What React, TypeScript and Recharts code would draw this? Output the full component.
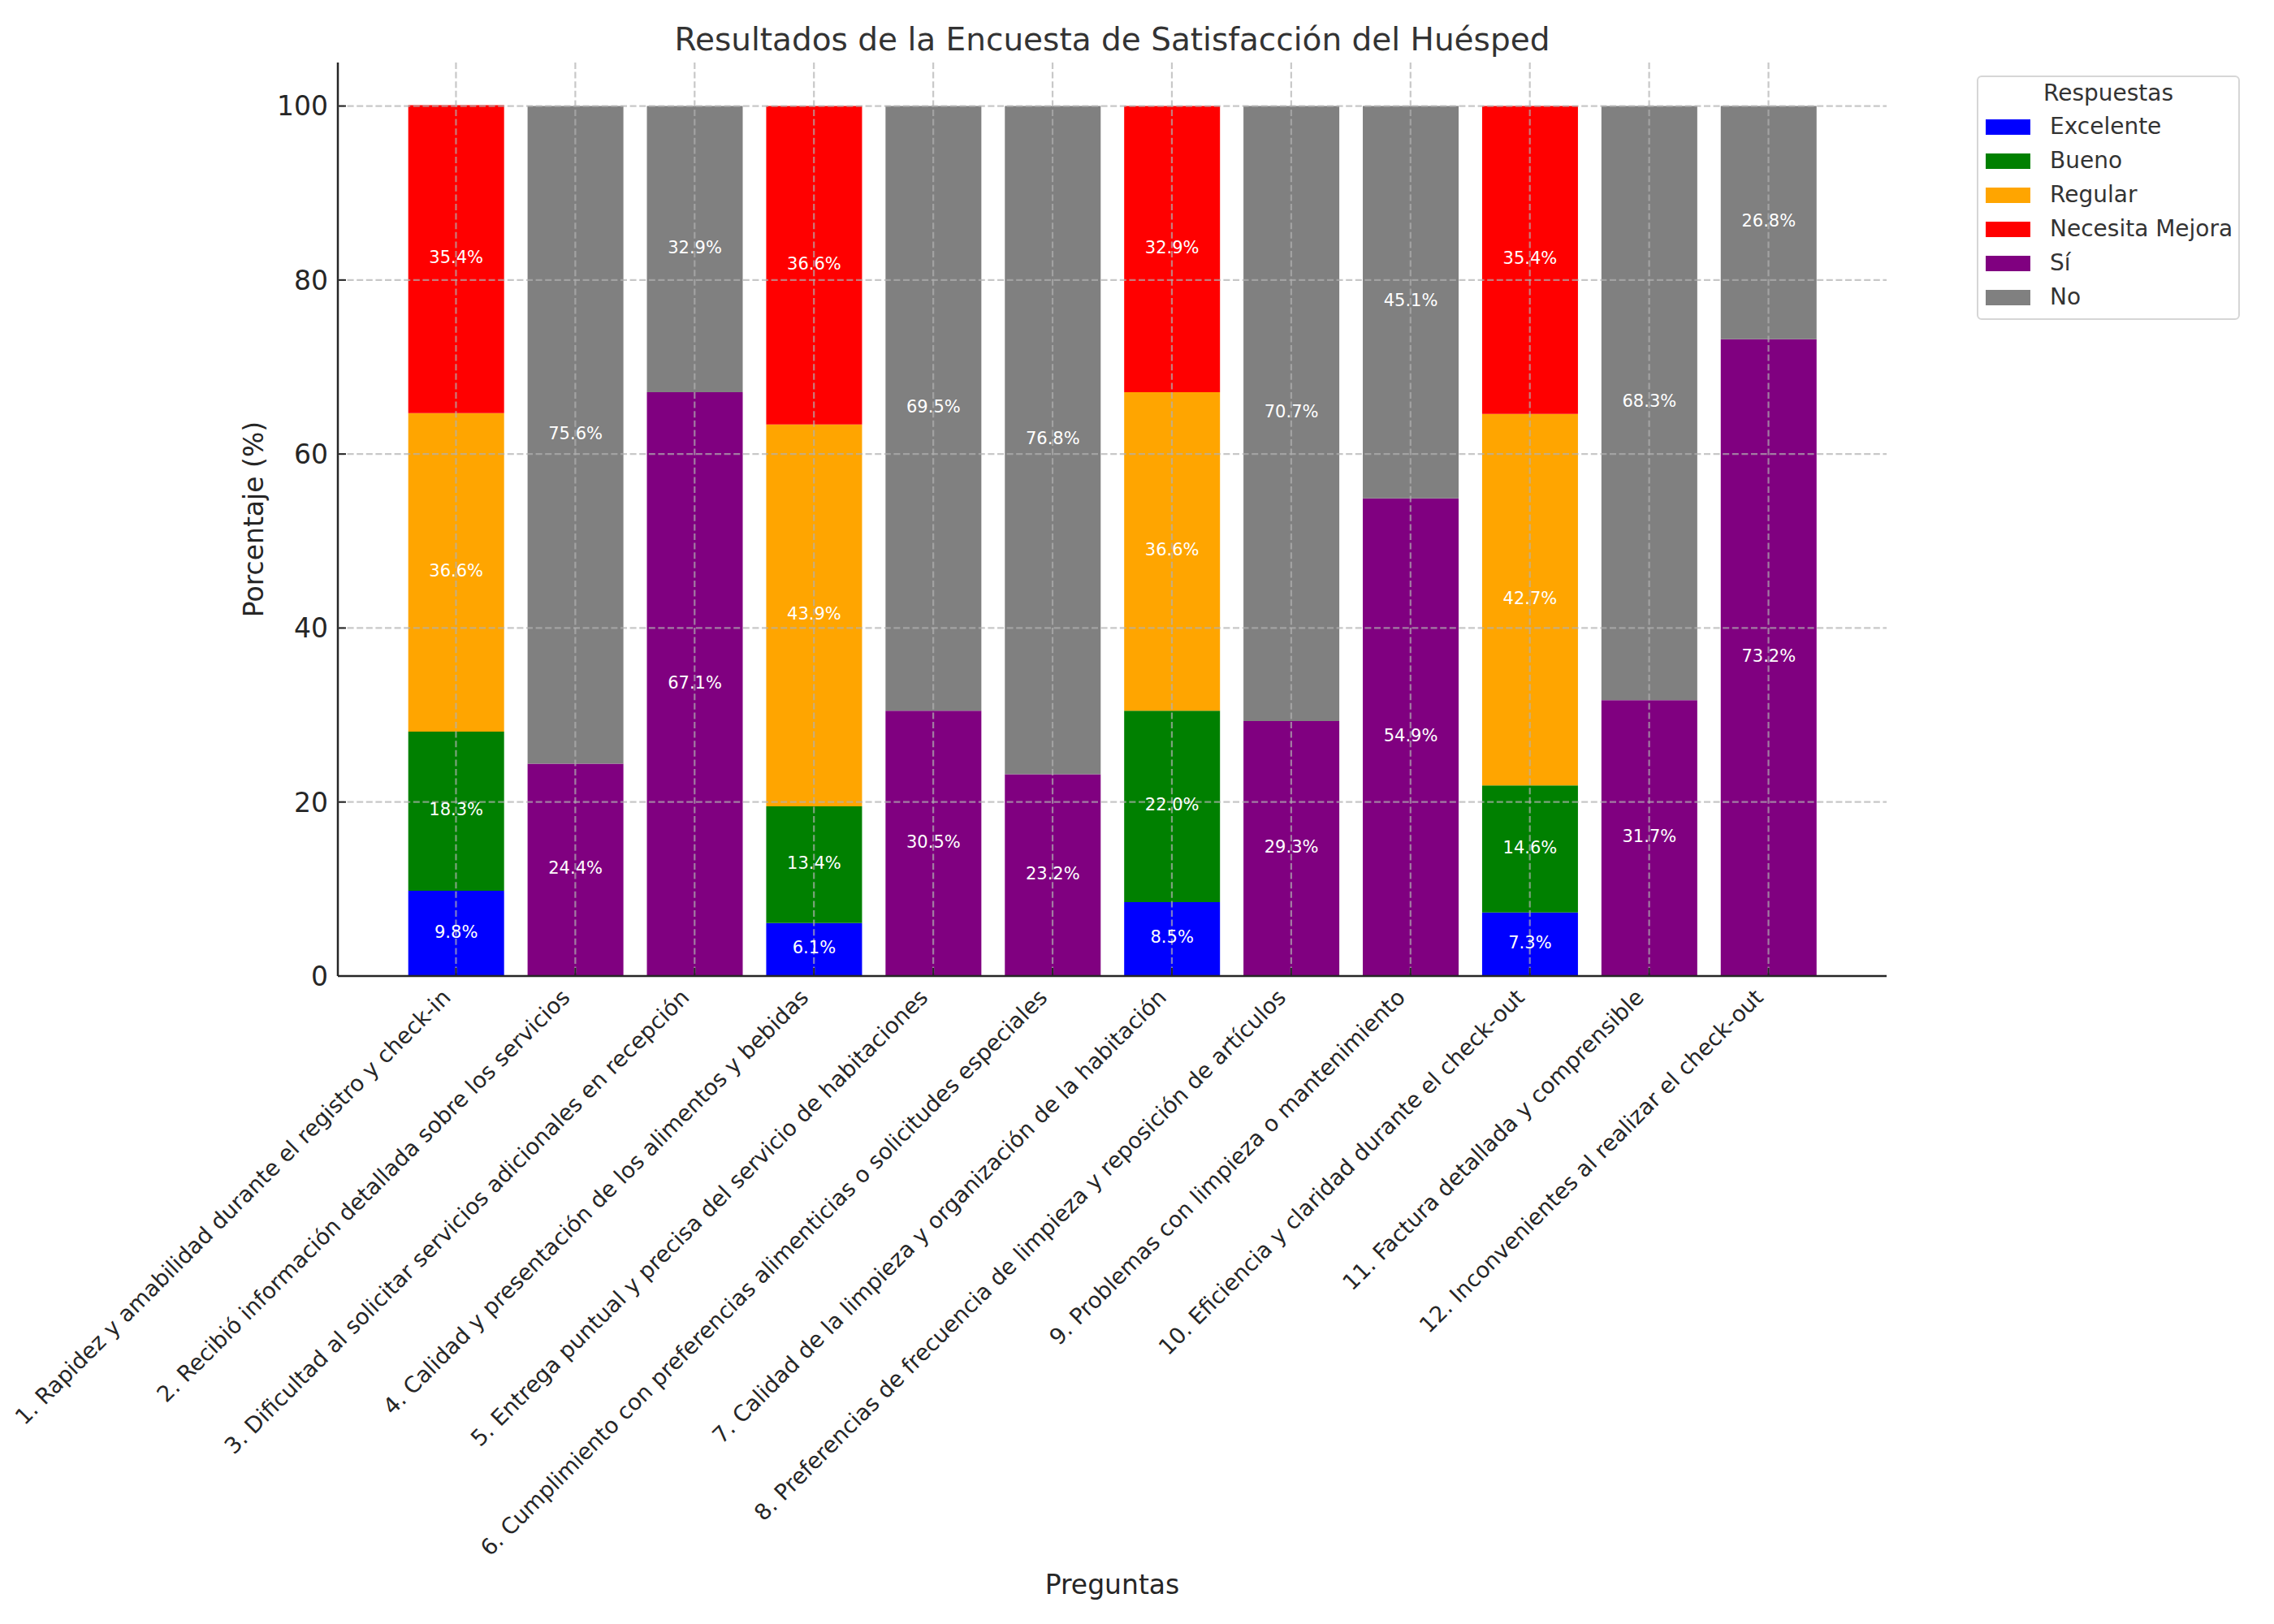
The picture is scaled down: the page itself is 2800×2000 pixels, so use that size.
import React from 'react'
import { BarChart, Bar, XAxis, YAxis, CartesianGrid, Legend, LabelList, Label } from 'recharts'

const preguntas = [
  '1. Rapidez y amabilidad durante el registro y check-in',
  '2. Recibió información detallada sobre los servicios',
  '3. Dificultad al solicitar servicios adicionales en recepción',
  '4. Calidad y presentación de los alimentos y bebidas',
  '5. Entrega puntual y precisa del servicio de habitaciones',
  '6. Cumplimiento con preferencias alimenticias o solicitudes especiales',
  '7. Calidad de la limpieza y organización de la habitación',
  '8. Preferencias de frecuencia de limpieza y reposición de artículos',
  '9. Problemas con limpieza o mantenimiento',
  '10. Eficiencia y claridad durante el check-out',
  '11. Factura detallada y comprensible',
  '12. Inconvenientes al realizar el check-out',
]

// porcentajes por respuesta; null donde la pregunta no usa esa escala
const excelente = [9.8, null, null, 6.1, null, null, 8.5, null, null, 7.3, null, null]
const bueno = [18.3, null, null, 13.4, null, null, 22.0, null, null, 14.6, null, null]
const regular = [36.6, null, null, 43.9, null, null, 36.6, null, null, 42.7, null, null]
const necesitaMejora = [35.4, null, null, 36.6, null, null, 32.9, null, null, 35.4, null, null]
const si = [null, 24.4, 67.1, null, 30.5, 23.2, null, 29.3, 54.9, null, 31.7, 73.2]
const no = [null, 75.6, 32.9, null, 69.5, 76.8, null, 70.7, 45.1, null, 68.3, 26.8]

const yTicks = [0, 20, 40, 60, 80, 100]

const series = [
  { key: 'excelente', name: 'Excelente', color: '#0000ff', values: excelente },
  { key: 'bueno', name: 'Bueno', color: '#008000', values: bueno },
  { key: 'regular', name: 'Regular', color: '#ffa500', values: regular },
  { key: 'necesitaMejora', name: 'Necesita Mejora', color: '#ff0000', values: necesitaMejora },
  { key: 'si', name: 'Sí', color: '#800080', values: si },
  { key: 'no', name: 'No', color: '#808080', values: no },
]

const rows = preguntas.map((pregunta, i) => {
  const row: Record<string, string | number> = { pregunta }
  series.forEach((s) => {
    row[s.key] = s.values[i] ?? 0
  })
  return row
})

const FONT = '"DejaVu Sans", sans-serif'
const INK = '#262626'

function XTick(props: any) {
  const { x, y, payload } = props
  const ax = x - 5
  const ay = y + 28
  return (
    <g>
      <line x1={x} y1={y} x2={x} y2={y - 10} stroke={INK} strokeWidth={2} />
      <text
        x={ax}
        y={ay}
        textAnchor="end"
        transform={`rotate(-45, ${ax}, ${ay})`}
        fontSize={27.5}
        fontFamily={FONT}
        fill={INK}
      >
        {payload.value}
      </text>
    </g>
  )
}

function YTick(props: any) {
  const { x, y, payload } = props
  return (
    <g>
      <line x1={x + 12} y1={y} x2={x + 22} y2={y} stroke={INK} strokeWidth={2} />
      <text x={x} y={y} dy="0.36em" textAnchor="end" fontSize={33} fontFamily={FONT} fill={INK}>
        {payload.value}
      </text>
    </g>
  )
}

function ValueLabel(props: any) {
  const box = props.viewBox ?? props
  const { x, y, width, height } = box
  const v = Number(props.value)
  if (!v) return null
  return (
    <text
      x={x + width / 2}
      y={y + height / 2 - 2}
      dominantBaseline="central"
      textAnchor="middle"
      fontSize={21}
      fontFamily={FONT}
      fill="#ffffff"
    >
      {`${v.toFixed(1)}%`}
    </text>
  )
}

function LegendBox() {
  return (
    <div
      style={{
        boxSizing: 'border-box',
        width: 324,
        height: 301,
        border: '2px solid #d6d6d6',
        borderRadius: 6,
        background: 'rgba(255,255,255,0.8)',
        fontFamily: FONT,
        fontSize: 28,
        color: '#333333',
      }}
    >
      <div style={{ height: 40, lineHeight: '40px', textAlign: 'center' }}>Respuestas</div>
      {series.map((s) => (
        <div key={s.key} style={{ height: 42, display: 'flex', alignItems: 'center' }}>
          <span style={{ display: 'inline-block', width: 55, height: 19, marginLeft: 9, background: s.color }} />
          <span style={{ marginLeft: 24, lineHeight: '42px' }}>{s.name}</span>
        </div>
      ))}
    </div>
  )
}

export default function App() {
  return (
    <div style={{ position: 'absolute', left: 0, top: 0, width: 2800, height: 2000, background: '#fff' }}>
      <div
        style={{
          position: 'absolute',
          left: 416,
          width: 1907,
          top: 29,
          textAlign: 'center',
          fontFamily: FONT,
          fontSize: 39,
          lineHeight: '39px',
          color: '#333333',
        }}
      >
        Resultados de la Encuesta de Satisfacción del Huésped
      </div>
      <BarChart
        width={2800}
        height={2000}
        data={rows}
        margin={{ top: 77, right: 477, left: 208, bottom: 28 }}
        barCategoryGap="10%"
      >
        <XAxis
          dataKey="pregunta"
          interval={0}
          height={770}
          padding={{ left: 72, right: 72 }}
          tick={<XTick />}
          tickLine={false}
          tickSize={0}
          tickMargin={0}
          axisLine={{ stroke: INK, strokeWidth: 2.5 }}
        >
          <Label value="Preguntas" position="insideBottom" offset={9} fontSize={33} fontFamily={FONT} fill={INK} />
        </XAxis>
        <YAxis
          width={208}
          domain={[0, 105]}
          ticks={yTicks}
          tick={<YTick />}
          tickLine={false}
          tickSize={0}
          tickMargin={12}
          axisLine={{ stroke: INK, strokeWidth: 2.5 }}
        >
          <Label value="Porcentaje (%)" position="center" angle={-90} fontSize={33} fontFamily={FONT} fill={INK} />
        </YAxis>
        <Legend
          layout="vertical"
          align="center"
          verticalAlign="middle"
          content={<LegendBox />}
          wrapperStyle={{ position: 'absolute', left: 2434, top: 93, width: 324, height: 301 }}
        />
        {series.map((s) => (
          <Bar key={s.key} dataKey={s.key} name={s.name} stackId="a" fill={s.color} isAnimationActive={false}>
            <LabelList dataKey={s.key} content={<ValueLabel />} />
          </Bar>
        ))}
        {/* dashed grid on top of the bars; the 0 line stays under the axis */}
        <CartesianGrid
          stroke="#b0b0b0"
          strokeOpacity={0.7}
          strokeWidth={2.2}
          strokeDasharray="8 3.6"
          syncWithTicks
          horizontalValues={yTicks.filter((t) => t > 0)}
          zIndex={1000}
        />
      </BarChart>
    </div>
  )
}
